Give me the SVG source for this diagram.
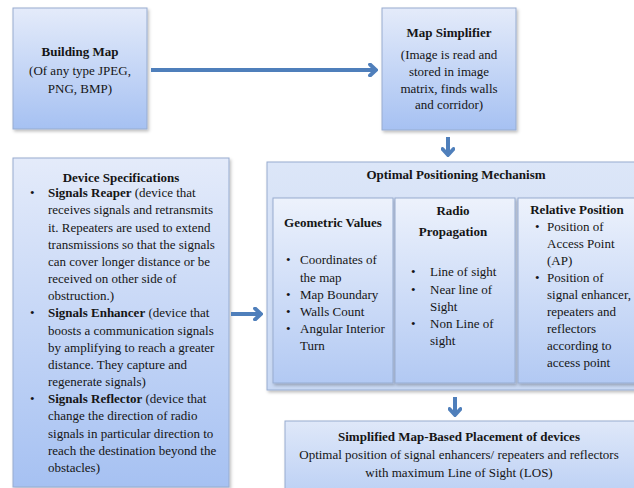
<svg xmlns="http://www.w3.org/2000/svg" width="634" height="488" viewBox="0 0 634 488">
<defs>
<linearGradient id="gBox" x1="0" y1="0" x2="0" y2="1">
<stop offset="0" stop-color="#e4ebfa"/>
<stop offset="1" stop-color="#a6c1f2"/>
</linearGradient>
<linearGradient id="gOuter" x1="0" y1="0" x2="0" y2="1">
<stop offset="0" stop-color="#dce6f8"/>
<stop offset="1" stop-color="#c9d9f4"/>
</linearGradient>
<linearGradient id="gInner" x1="0" y1="0" x2="0" y2="1">
<stop offset="0" stop-color="#edf2fc"/>
<stop offset="1" stop-color="#b2c9f3"/>
</linearGradient>
<linearGradient id="gBottom" x1="0" y1="0" x2="0" y2="1">
<stop offset="0" stop-color="#dfe8f9"/>
<stop offset="1" stop-color="#b9cef4"/>
</linearGradient>
<filter id="sh" x="-10%" y="-10%" width="120%" height="120%">
<feDropShadow dx="1.5" dy="2" stdDeviation="1.5" flood-color="#000" flood-opacity="0.25"/>
</filter>
<marker id="ah" viewBox="0 0 10 14" refX="8" refY="7" markerWidth="10" markerHeight="14" orient="auto" markerUnits="userSpaceOnUse">
<path d="M2,1.5 L8,7 L2,12.5" fill="none" stroke="#4f7fbb" stroke-width="3.8" stroke-linecap="round" stroke-linejoin="miter"/>
</marker>
<style>
.box{stroke:#97acd0;stroke-width:1;filter:url(#sh)}
.t{font-family:"Liberation Serif","Times New Roman",serif;font-size:13px;fill:#151515}
.c{text-anchor:middle}
.b{font-weight:bold}
.conn{stroke:#4f7fbb;stroke-width:4;fill:none;marker-end:url(#ah)}
</style>
</defs>

<g id="building-map">
<rect class="box" x="13" y="8" width="134" height="121" fill="url(#gBox)"/>
<text class="t c b" x="80" y="56" font-size="11.5">Building Map</text>
<text class="t c" x="80" y="75" font-size="12.5">(Of any type JPEG,</text>
<text class="t c" x="80" y="93" font-size="12.5">PNG, BMP)</text>
</g>

<g id="map-simplifier">
<rect class="box" x="382" y="8" width="134" height="122" fill="url(#gBox)"/>
<text class="t c b" x="449" y="37">Map Simplifier</text>
<text class="t c" x="449" y="59">(Image is read and</text>
<text class="t c" x="449" y="76">stored in image</text>
<text class="t c" x="449" y="93">matrix, finds walls</text>
<text class="t c" x="449" y="109">and corridor)</text>
</g>

<g id="device-specifications">
<rect class="box" x="13" y="158" width="216" height="329" fill="url(#gBox)"/>
<text class="t c b" x="121" y="182" font-size="13.5">Device Specifications</text>
<g class="t" font-size="13.8">
<text x="30" y="197">•</text>
<text x="48" y="197"><tspan font-weight="bold">Signals Reaper</tspan> (device that</text>
<text x="48" y="214">receives signals and retransmits</text>
<text x="48" y="232">it. Repeaters are used to extend</text>
<text x="48" y="249">transmissions  so that the signals</text>
<text x="48" y="266">can cover longer distance or be</text>
<text x="48" y="283">received on other side of</text>
<text x="48" y="300">obstruction.)</text>
<text x="30" y="317">•</text>
<text x="48" y="317"><tspan font-weight="bold">Signals Enhancer</tspan> (device that</text>
<text x="48" y="335">boosts a communication signals</text>
<text x="48" y="352">by amplifying to reach a greater</text>
<text x="48" y="369">distance. They capture and</text>
<text x="48" y="386">regenerate signals)</text>
<text x="30" y="403">•</text>
<text x="48" y="403"><tspan font-weight="bold">Signals Reflector</tspan> (device that</text>
<text x="48" y="420">change the direction of radio</text>
<text x="48" y="438">signals in particular direction to</text>
<text x="48" y="455">reach the destination beyond the</text>
<text x="48" y="472">obstacles)</text>
</g>
</g>

<g id="optimal-positioning">
<rect class="box" x="267" y="162" width="380" height="228" fill="url(#gOuter)"/>
<text class="t c b" x="456" y="179">Optimal Positioning Mechanism</text>
</g>

<g id="geometric-values">
<rect class="box" x="273" y="198" width="120" height="185" fill="url(#gInner)"/>
<text class="t c b" x="333" y="227">Geometric Values</text>
<g class="t">
<text x="286" y="264">•</text><text x="300" y="264">Coordinates of</text>
<text x="300" y="282">the map</text>
<text x="286" y="299">•</text><text x="300" y="299">Map Boundary</text>
<text x="286" y="316">•</text><text x="300" y="316">Walls Count</text>
<text x="286" y="333">•</text><text x="300" y="333">Angular Interior</text>
<text x="300" y="350">Turn</text>
</g>
</g>

<g id="radio-propagation">
<rect class="box" x="395" y="198" width="120" height="185" fill="url(#gInner)"/>
<text class="t c b" x="453" y="215">Radio</text>
<text class="t c b" x="453" y="236">Propagation</text>
<g class="t">
<text x="411" y="276">•</text><text x="430" y="276">Line of sight</text>
<text x="411" y="294">•</text><text x="430" y="294">Near line of</text>
<text x="430" y="311">Sight</text>
<text x="411" y="328">•</text><text x="430" y="328">Non Line of</text>
<text x="430" y="345">sight</text>
</g>
</g>

<g id="relative-position">
<rect class="box" x="518" y="198" width="124" height="185" fill="url(#gInner)"/>
<text class="t c b" x="577" y="214">Relative Position</text>
<g class="t">
<text x="535" y="231">•</text><text x="547" y="231">Position of</text>
<text x="547" y="248">Access Point</text>
<text x="547" y="265">(AP)</text>
<text x="535" y="282">•</text><text x="547" y="282">Position of</text>
<text x="547" y="299">signal enhancer,</text>
<text x="547" y="316">repeaters and</text>
<text x="547" y="333">reflectors</text>
<text x="547" y="350">according to</text>
<text x="547" y="367">access point</text>
</g>
</g>

<g id="placement">
<rect class="box" x="285" y="421" width="352" height="80" fill="url(#gBottom)"/>
<text class="t c b" x="459" y="441">Simplified Map-Based Placement of devices</text>
<text class="t c" x="459" y="459">Optimal position of signal enhancers/ repeaters and reflectors</text>
<text class="t c" x="459" y="477">with maximum Line of Sight (LOS)</text>
</g>

<g id="connectors">
<line class="conn" x1="151" y1="70" x2="376" y2="70"/>
<line class="conn" x1="448" y1="137" x2="448" y2="155"/>
<line class="conn" x1="231" y1="314" x2="261" y2="314"/>
<line class="conn" x1="455" y1="397" x2="455" y2="415"/>
</g>
</svg>
